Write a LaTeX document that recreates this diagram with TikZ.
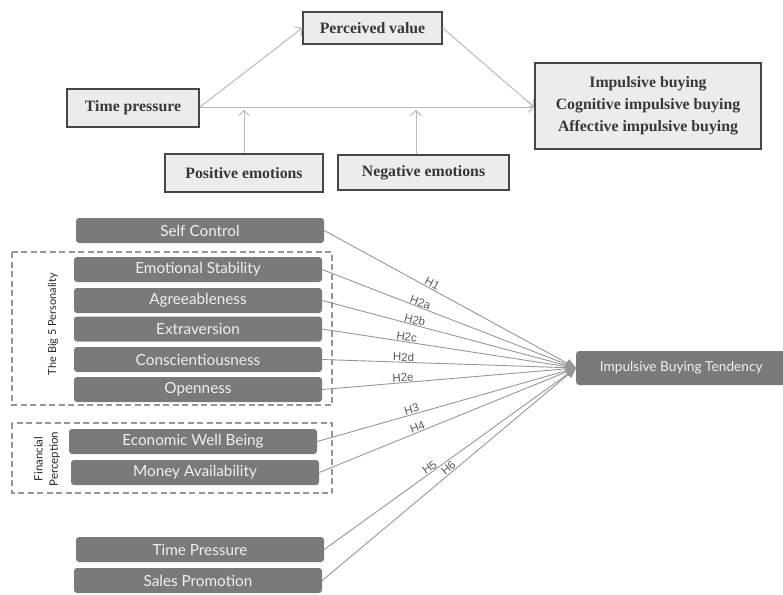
\documentclass[tikz,border=0pt]{standalone}
\usepackage{fontspec}
\setmainfont{Liberation Serif}
\newfontfamily\lato{Lato}
\newfontfamily\arialf{Liberation Sans}
\usetikzlibrary{arrows.meta}
\definecolor{topfill}{RGB}{236,236,236}
\definecolor{topline}{RGB}{70,70,70}
\definecolor{toptext}{RGB}{55,55,55}
\definecolor{toparrow}{RGB}{185,185,185}
\definecolor{darkfill}{RGB}{122,122,122}
\definecolor{boxtext}{RGB}{240,240,240}
\definecolor{hline}{RGB}{150,150,150}
\definecolor{htext}{RGB}{90,90,90}
\tikzset{
  topbox/.style={draw=topline, line width=1.3pt, fill=topfill, text=toptext,
    font=\fontsize{15.8}{18}\selectfont\bfseries, inner sep=0pt, align=center},
  toparr/.style={draw=toparrow, line width=1pt, -{Straight Barb[length=5pt,width=11pt]}},
  darkbox/.style={fill=darkfill, rounded corners=3pt, text=boxtext,
    font=\lato\fontsize{15.3}{17}\selectfont, inner sep=0pt},
  grpbox/.style={draw=hline, line width=1.1pt, dash pattern=on 6pt off 3.5pt},
  hyparr/.style={draw=hline, line width=0.9pt, -{Triangle[length=10pt,width=9pt]}},
  hlab/.style={font=\arialf\fontsize{11.5}{12}\selectfont, text=htext, sloped, above, inner sep=0pt, outer sep=1pt},
  grplab/.style={font=\lato\fontsize{11}{13}\selectfont, text=black!85, rotate=90, align=center}
}
\begin{document}
\begin{tikzpicture}[x=1pt,y=-1pt]
\useasboundingbox (0,0) rectangle (783,594);
% ---------- top model ----------
\node[topbox, minimum width=139, minimum height=32] (pv) at (372.5,28) {Perceived value};
\node[topbox, minimum width=132, minimum height=38] (tp) at (133,108) {Time pressure};
\node[topbox, minimum width=158, minimum height=38] (pe) at (244,173) {Positive emotions};
\node[topbox, minimum width=171, minimum height=35] (ne) at (423.5,172.5) {Negative emotions};
\node[topbox, minimum width=226, minimum height=86, font=\fontsize{15.8}{22}\selectfont\bfseries] (ib) at (648,106)
  {Impulsive buying\\Cognitive impulsive buying\\Affective impulsive buying};
\coordinate (ibin) at (534,107);
\coordinate (tpout) at (200,107);
\coordinate (pein) at (244,110);
\coordinate (nein) at (416,110);
\draw[toparr] (tpout) -- (pv.west);
\draw[toparr] (pv.east) -- (ibin);
\draw[toparr] (tpout) -- (ibin);
\draw[toparr] (pe.north) -- (pein);
\draw[toparr] ([xshift=-7.5pt]ne.north) -- (nein);
% ---------- bottom model ----------
\draw[grpbox] (12,252) rectangle (332,405);
\draw[grpbox] (12,423) rectangle (332,493);
\node[grplab] (big5) at (53,324) {The Big 5 Personality};
\node[grplab, font=\lato\fontsize{11.5}{15}\selectfont] (fin) at (47,459) {Financial\\Perception};
\node[darkbox, minimum width=248, minimum height=25] (sc) at (200,230.5) {Self Control};
\node[darkbox, minimum width=248, minimum height=25] (es) at (198,269.5) {Emotional Stability};
\node[darkbox, minimum width=248, minimum height=25] (ag) at (198,300.5) {Agreeableness};
\node[darkbox, minimum width=248, minimum height=25] (ex) at (198,329) {Extraversion};
\node[darkbox, minimum width=248, minimum height=25] (co) at (198,359.5) {Conscientiousness};
\node[darkbox, minimum width=248, minimum height=25] (op) at (198,389.5) {Openness};
\node[darkbox, minimum width=248, minimum height=25] (ew) at (193,441.5) {Economic Well Being};
\node[darkbox, minimum width=248, minimum height=25] (ma) at (195,472.5) {Money Availability};
\node[darkbox, minimum width=248, minimum height=25] (tpr) at (200,549.5) {Time Pressure};
\node[darkbox, minimum width=248, minimum height=25] (sp) at (198,580.5) {Sales Promotion};
\node[darkbox, minimum width=210, minimum height=34, font=\lato\fontsize{13.7}{15}\selectfont, anchor=west] (ibt) at (576,368) {Impulsive Buying Tendency};
\draw[hyparr] (sc.east) -- node[hlab, pos=0.42] {H1} (ibt.west);
\draw[hyparr] (es.east) -- node[hlab, pos=0.38] {H2a} (ibt.west);
\draw[hyparr] (ag.east) -- node[hlab, pos=0.36] {H2b} (ibt.west);
\draw[hyparr] (ex.east) -- node[hlab, pos=0.33] {H2c} (ibt.west);
\draw[hyparr] (co.east) -- node[hlab, pos=0.32] {H2d} (ibt.west);
\draw[hyparr] (op.east) -- node[hlab, pos=0.32] {H2e} (ibt.west);
\draw[hyparr] (ew.east) -- node[hlab, pos=0.37] {H3} (ibt.west);
\draw[hyparr] (ma.east) -- node[hlab, pos=0.39] {H4} (ibt.west);
\draw[hyparr] (tpr.east) -- node[hlab, pos=0.43] {H5} (ibt.west);
\draw[hyparr] (sp.east) -- node[hlab, pos=0.51] {H6} (ibt.west);
\end{tikzpicture}
\end{document}
